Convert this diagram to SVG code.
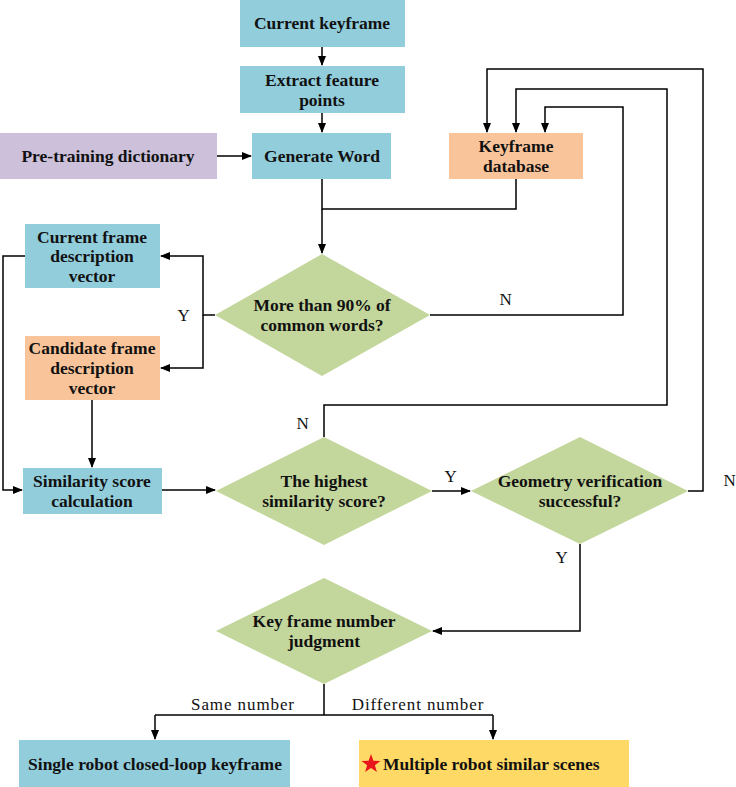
<svg xmlns="http://www.w3.org/2000/svg" width="736" height="787" viewBox="0 0 736 787">
<style>
.t{font-family:"Liberation Serif","DejaVu Serif",serif;font-weight:bold;font-size:17.5px;fill:#111;text-anchor:middle}
.l{font-family:"Liberation Serif","DejaVu Serif",serif;font-size:17px;letter-spacing:0.9px;fill:#111;text-anchor:middle}
.blue{fill:#92CDDC}.purple{fill:#CCC0DA}.orange{fill:#F9C49A}.green{fill:#C3D69B}.yellow{fill:#FFD966}
.c{fill:none;stroke:#000;stroke-width:1.5}
</style>
<defs>
<marker id="a" markerWidth="10" markerHeight="8" refX="9" refY="4" orient="auto" markerUnits="userSpaceOnUse">
<path d="M0,0 L10,4 L0,8 Z" fill="#000"/>
</marker>
</defs>
<g id="connectors">
<path class="c" d="M322,47 V65" marker-end="url(#a)"/>
<path class="c" d="M322,113 V132" marker-end="url(#a)"/>
<path class="c" d="M217,156 H251" marker-end="url(#a)"/>
<path class="c" d="M322,179 V209 H516 V179"/>
<path class="c" d="M322,209 V253" marker-end="url(#a)"/>
<path class="c" d="M430,315 H623 V107 H545 V132" marker-end="url(#a)"/>
<path class="c" d="M324,437 V405 H667 V89 H516 V132" marker-end="url(#a)"/>
<path class="c" d="M688,491 H703 V69 H487 V132" marker-end="url(#a)"/>
<path class="c" d="M215,315 H203 V256 H161" marker-end="url(#a)"/>
<path class="c" d="M203,315 V368 H161" marker-end="url(#a)"/>
<path class="c" d="M25,256 H3 V490 H22" marker-end="url(#a)"/>
<path class="c" d="M92,400 V467" marker-end="url(#a)"/>
<path class="c" d="M162,490 H215" marker-end="url(#a)"/>
<path class="c" d="M432,491 H470" marker-end="url(#a)"/>
<path class="c" d="M580,544 V631 H433" marker-end="url(#a)"/>
<path class="c" d="M324,684 V715"/>
<path class="c" d="M155,715 H493"/>
<path class="c" d="M155,715 V739" marker-end="url(#a)"/>
<path class="c" d="M493,715 V739" marker-end="url(#a)"/>
<text class="l" x="184" y="321">Y</text>
<text class="l" x="506" y="305">N</text>
<text class="l" x="303" y="429">N</text>
<text class="l" x="451" y="482">Y</text>
<text class="l" x="730" y="486">N</text>
<text class="l" x="562" y="563">Y</text>
<text class="l" x="243" y="710">Same number</text>
<text class="l" x="418" y="710">Different number</text>
</g>
<g id="current-keyframe"><rect class="blue" x="240" y="0" width="165" height="47"/><text class="t" x="322" y="29">Current keyframe</text></g>
<g id="extract-feature-points"><rect class="blue" x="240" y="66" width="165" height="47"/><text class="t" x="322" y="86">Extract feature</text><text class="t" x="322" y="106">points</text></g>
<g id="pre-training-dictionary"><rect class="purple" x="0" y="133" width="217" height="46"/><text class="t" x="108" y="162">Pre-training dictionary</text></g>
<g id="generate-word"><rect class="blue" x="252" y="133" width="139" height="46"/><text class="t" x="322" y="162">Generate Word</text></g>
<g id="keyframe-database"><rect class="orange" x="449" y="133" width="134" height="46"/><text class="t" x="516" y="152">Keyframe</text><text class="t" x="516" y="172">database</text></g>
<g id="common-words"><polygon class="green" points="322,254 430,315 322,376 215,315"/><text class="t" x="322" y="311">More than 90% of</text><text class="t" x="322" y="331">common words?</text></g>
<g id="current-frame-vector"><rect class="blue" x="25" y="224" width="135" height="64"/><text class="t" x="92" y="243">Current frame</text><text class="t" x="92" y="262">description</text><text class="t" x="92" y="282">vector</text></g>
<g id="candidate-frame-vector"><rect class="orange" x="25" y="336" width="135" height="64"/><text class="t" x="92" y="354">Candidate frame</text><text class="t" x="92" y="374">description</text><text class="t" x="92" y="394">vector</text></g>
<g id="similarity-score-calculation"><rect class="blue" x="23" y="468" width="139" height="46"/><text class="t" x="92" y="487">Similarity score</text><text class="t" x="92" y="507">calculation</text></g>
<g id="highest-similarity"><polygon class="green" points="324,437 432,491 324,545 216,491"/><text class="t" x="324" y="487">The highest</text><text class="t" x="324" y="507">similarity score?</text></g>
<g id="geometry-verification"><polygon class="green" points="580,437 688,491 580,544 471,491"/><text class="t" x="580" y="487">Geometry verification</text><text class="t" x="580" y="507">successful?</text></g>
<g id="key-frame-number"><polygon class="green" points="324,578 432,631 324,684 216,631"/><text class="t" x="324" y="627">Key frame number</text><text class="t" x="324" y="647">judgment</text></g>
<g id="single-robot"><rect class="blue" x="19" y="740" width="271" height="47"/><text class="t" x="155" y="770">Single robot closed-loop keyframe</text></g>
<g id="multiple-robot"><rect class="yellow" x="359" y="740" width="270" height="47"/><polygon fill="#E8151B" points="371,754 373.4,760.7 380.5,760.9 374.9,765.2 376.9,772 371,768 365.1,772 367.1,765.2 361.5,760.9 368.6,760.7"/><text class="t" x="383" y="770" style="text-anchor:start">Multiple robot similar scenes</text></g>
</svg>
